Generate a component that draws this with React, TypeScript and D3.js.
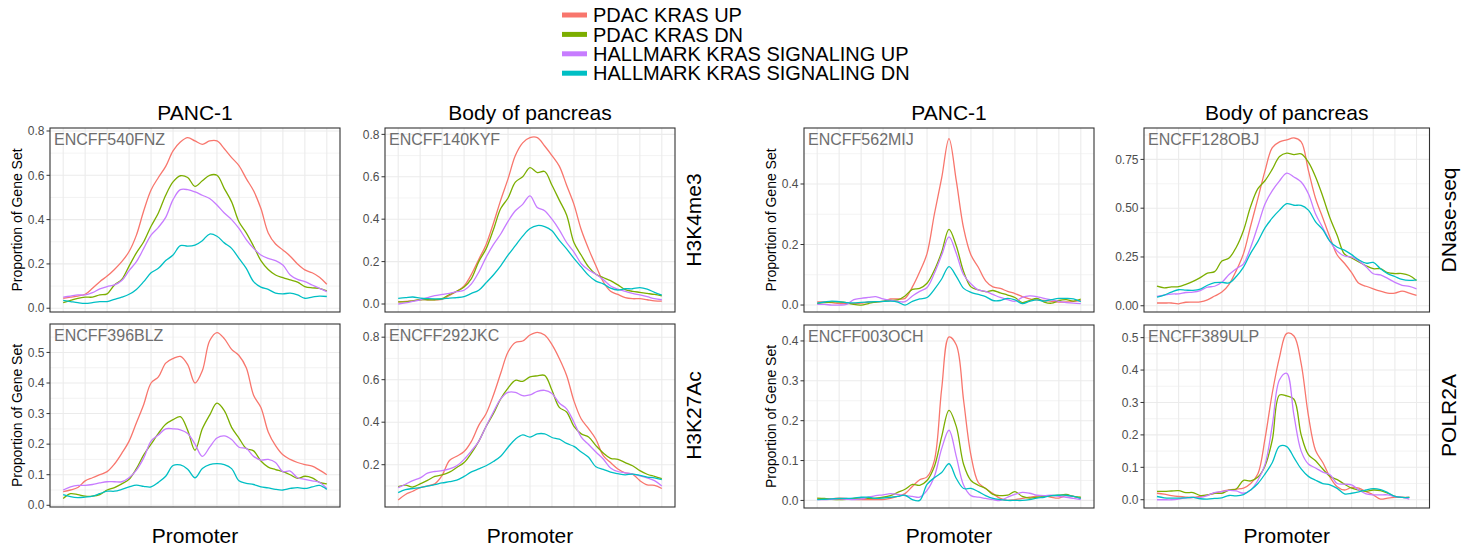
import React from 'react';
import * as d3 from 'd3';

// legend / series
const SERIES_NAMES = ['PDAC KRAS UP', 'PDAC KRAS DN', 'HALLMARK KRAS SIGNALING UP', 'HALLMARK KRAS SIGNALING DN'];
const SERIES_COLORS = ['#F8766D', '#7CAE00', '#C77CFF', '#00BFC4'];

// facet labels
const COLUMN_TITLES = ['PANC-1', 'Body of pancreas'];
const ROW_LABELS_LEFT = ['H3K4me3', 'H3K27Ac'];
const ROW_LABELS_RIGHT = ['DNase-seq', 'POLR2A'];
const FILE_IDS = ['ENCFF540FNZ', 'ENCFF140KYF', 'ENCFF396BLZ', 'ENCFF292JKC', 'ENCFF562MIJ', 'ENCFF128OBJ', 'ENCFF003OCH', 'ENCFF389ULP'];
const X_TITLE = 'Promoter';
const Y_TITLE = 'Proportion of Gene Set';

// H3K4me3, PANC-1
const H3K4_PANC_UP = [0.045,0.05,0.055,0.063,0.09,0.12,0.145,0.175,0.21,0.256,0.33,0.44,0.534,0.59,0.64,0.71,0.75,0.77,0.755,0.74,0.755,0.755,0.72,0.68,0.644,0.585,0.53,0.45,0.34,0.29,0.263,0.235,0.2,0.173,0.16,0.14,0.108];
const H3K4_PANC_DN = [0.025,0.035,0.045,0.05,0.05,0.06,0.065,0.105,0.13,0.19,0.25,0.3,0.37,0.43,0.51,0.57,0.598,0.59,0.55,0.575,0.6,0.6,0.54,0.48,0.39,0.34,0.28,0.215,0.175,0.15,0.138,0.128,0.118,0.098,0.092,0.09,0.078];
const H3K4_PANC_HUP = [0.05,0.055,0.06,0.06,0.07,0.087,0.098,0.105,0.125,0.17,0.21,0.27,0.33,0.365,0.41,0.49,0.535,0.535,0.525,0.51,0.495,0.466,0.43,0.4,0.36,0.31,0.27,0.24,0.225,0.215,0.195,0.15,0.13,0.12,0.105,0.09,0.075];
const H3K4_PANC_HDN = [0.035,0.03,0.025,0.022,0.025,0.03,0.03,0.04,0.05,0.063,0.085,0.12,0.16,0.18,0.215,0.24,0.283,0.28,0.285,0.305,0.335,0.325,0.295,0.27,0.225,0.18,0.12,0.095,0.085,0.068,0.065,0.068,0.06,0.045,0.05,0.055,0.053];

// H3K4me3, Body of pancreas
const H3K4_BODY_UP = [0.01,0.012,0.015,0.02,0.02,0.02,0.022,0.04,0.06,0.085,0.14,0.21,0.28,0.38,0.49,0.59,0.7,0.76,0.785,0.785,0.745,0.7,0.65,0.56,0.47,0.35,0.26,0.18,0.105,0.06,0.045,0.03,0.025,0.025,0.02,0.015,0.014];
const H3K4_BODY_DN = [0.01,0.01,0.015,0.02,0.02,0.02,0.025,0.045,0.06,0.08,0.12,0.2,0.26,0.35,0.45,0.5,0.575,0.6,0.643,0.62,0.625,0.56,0.49,0.42,0.29,0.23,0.175,0.14,0.125,0.11,0.09,0.068,0.06,0.055,0.05,0.045,0.038];
const H3K4_BODY_HUP = [0,0.005,0.012,0.02,0.03,0.04,0.045,0.05,0.058,0.065,0.095,0.15,0.22,0.28,0.33,0.39,0.44,0.47,0.51,0.455,0.44,0.4,0.35,0.29,0.245,0.19,0.16,0.14,0.115,0.085,0.07,0.06,0.05,0.043,0.035,0.025,0.02];
const H3K4_BODY_HDN = [0.027,0.03,0.033,0.028,0.025,0.024,0.024,0.028,0.03,0.035,0.05,0.065,0.1,0.137,0.18,0.23,0.275,0.32,0.356,0.37,0.365,0.345,0.3,0.26,0.215,0.175,0.135,0.108,0.095,0.075,0.066,0.072,0.072,0.077,0.07,0.055,0.042];

// H3K27Ac, PANC-1
const H3K27_PANC_UP = [0.045,0.05,0.058,0.08,0.09,0.1,0.11,0.135,0.17,0.21,0.27,0.33,0.4,0.42,0.465,0.48,0.487,0.46,0.4,0.44,0.538,0.565,0.545,0.51,0.49,0.45,0.36,0.32,0.24,0.195,0.165,0.15,0.14,0.133,0.128,0.115,0.1];
const H3K27_PANC_DN = [0.022,0.038,0.035,0.03,0.03,0.035,0.05,0.058,0.07,0.085,0.12,0.165,0.2,0.235,0.265,0.28,0.29,0.245,0.18,0.25,0.295,0.334,0.31,0.255,0.22,0.186,0.178,0.145,0.125,0.117,0.11,0.1,0.088,0.095,0.09,0.075,0.07];
const H3K27_PANC_HUP = [0.05,0.06,0.065,0.065,0.068,0.073,0.077,0.077,0.077,0.09,0.115,0.155,0.21,0.23,0.25,0.25,0.247,0.235,0.2,0.16,0.19,0.22,0.227,0.215,0.19,0.186,0.16,0.148,0.15,0.14,0.11,0.112,0.09,0.085,0.08,0.075,0.055];
const H3K27_PANC_HDN = [0.035,0.028,0.025,0.027,0.03,0.038,0.046,0.046,0.052,0.06,0.066,0.062,0.06,0.075,0.095,0.13,0.132,0.118,0.09,0.12,0.133,0.136,0.133,0.12,0.08,0.072,0.068,0.06,0.057,0.052,0.05,0.055,0.058,0.055,0.06,0.065,0.052];

// H3K27Ac, Body of pancreas
const H3K27_BODY_UP = [0.034,0.06,0.075,0.092,0.1,0.11,0.15,0.22,0.24,0.262,0.31,0.385,0.44,0.527,0.63,0.73,0.775,0.782,0.81,0.823,0.81,0.765,0.7,0.62,0.5,0.415,0.37,0.32,0.243,0.21,0.18,0.162,0.156,0.125,0.105,0.103,0.088];
const H3K27_BODY_DN = [0.097,0.104,0.095,0.11,0.126,0.145,0.152,0.165,0.187,0.21,0.255,0.31,0.38,0.44,0.51,0.56,0.597,0.592,0.613,0.618,0.62,0.55,0.47,0.448,0.38,0.345,0.33,0.29,0.255,0.23,0.225,0.21,0.195,0.172,0.155,0.145,0.135];
const H3K27_BODY_HUP = [0.092,0.108,0.125,0.138,0.16,0.168,0.172,0.18,0.195,0.225,0.265,0.31,0.38,0.448,0.51,0.54,0.54,0.525,0.528,0.545,0.55,0.535,0.49,0.463,0.4,0.33,0.295,0.26,0.227,0.185,0.168,0.162,0.156,0.148,0.138,0.125,0.1];
const H3K27_BODY_HDN = [0.069,0.083,0.088,0.092,0.099,0.106,0.114,0.12,0.127,0.145,0.166,0.18,0.195,0.215,0.24,0.282,0.32,0.34,0.33,0.345,0.345,0.328,0.32,0.3,0.286,0.26,0.235,0.19,0.178,0.165,0.158,0.152,0.156,0.15,0.142,0.138,0.13];

// DNase-seq, PANC-1
const DNASE_PANC_UP = [0.01,0.01,0.008,0.005,0.005,0.005,0.006,0.01,0.01,0.012,0.02,0.02,0.022,0.06,0.11,0.17,0.3,0.42,0.55,0.41,0.253,0.165,0.125,0.08,0.06,0.055,0.045,0.038,0.028,0.02,0.017,0.015,0.012,0.01,0.01,0.012,0.015];
const DNASE_PANC_DN = [0.005,0.008,0.01,0.01,0.008,0.002,0,0.005,0.01,0.012,0.015,0.017,0.03,0.052,0.055,0.072,0.115,0.175,0.25,0.195,0.11,0.06,0.05,0.044,0.048,0.04,0.033,0.025,0.008,0.015,0.022,0.01,0.006,0.015,0.018,0.013,0.02];
const DNASE_PANC_HUP = [0.002,0.002,0,0,0.002,0.018,0.022,0.025,0.028,0.02,0.016,0.012,0.011,0.03,0.045,0.058,0.105,0.165,0.225,0.17,0.1,0.07,0.05,0.045,0.035,0.025,0.018,0.012,0.025,0.03,0.028,0.022,0.017,0.012,0.008,0.006,0.005];
const DNASE_PANC_HDN = [0.006,0.01,0.013,0.011,0.008,0.007,0.009,0.01,0.011,0.012,0.013,0.01,0,0.012,0.02,0.025,0.052,0.086,0.127,0.095,0.055,0.042,0.035,0.028,0.015,0.015,0.022,0.017,0.005,0.012,0.017,0.013,0.018,0.022,0.022,0.02,0.011];

// DNase-seq, Body of pancreas
const DNASE_BODY_UP = [0.014,0.014,0.014,0.01,0.018,0.019,0.02,0.03,0.05,0.07,0.11,0.18,0.267,0.41,0.55,0.694,0.81,0.84,0.85,0.86,0.84,0.694,0.55,0.45,0.35,0.26,0.218,0.17,0.115,0.1,0.087,0.075,0.065,0.065,0.075,0.065,0.053];
const DNASE_BODY_DN = [0.1,0.092,0.097,0.098,0.11,0.125,0.144,0.167,0.175,0.229,0.245,0.3,0.386,0.51,0.6,0.642,0.7,0.765,0.782,0.775,0.778,0.736,0.66,0.56,0.45,0.36,0.265,0.245,0.225,0.205,0.19,0.19,0.17,0.165,0.165,0.155,0.13];
const DNASE_BODY_HUP = [0.048,0.055,0.06,0.061,0.068,0.07,0.078,0.095,0.1,0.12,0.16,0.19,0.215,0.3,0.41,0.523,0.59,0.64,0.68,0.66,0.634,0.574,0.47,0.4,0.33,0.28,0.255,0.25,0.23,0.2,0.164,0.158,0.14,0.12,0.105,0.099,0.087];
const DNASE_BODY_HDN = [0.044,0.055,0.07,0.082,0.08,0.079,0.085,0.105,0.118,0.12,0.117,0.15,0.198,0.27,0.33,0.4,0.45,0.49,0.523,0.515,0.514,0.49,0.43,0.39,0.33,0.3,0.285,0.262,0.235,0.218,0.222,0.19,0.165,0.15,0.135,0.13,0.133];

// POLR2A, PANC-1
const POLR_PANC_UP = [0.004,0.004,0.004,0.006,0.005,0.003,0.002,0.002,0.002,0.002,0.005,0.01,0.017,0.035,0.052,0.059,0.1,0.28,0.41,0.39,0.25,0.113,0.045,0.03,0.017,0.005,0,0.002,0.005,0.008,0.011,0.012,0.008,0.006,0.012,0.01,0.005];
const POLR_PANC_DN = [0.006,0.005,0.003,0.002,0.003,0.005,0.006,0.005,0.006,0.008,0.012,0.02,0.028,0.04,0.038,0.05,0.085,0.16,0.226,0.185,0.09,0.05,0.038,0.03,0.015,0.012,0.013,0.022,0.01,0.006,0.008,0.01,0.012,0.013,0.015,0.01,0.008];
const POLR_PANC_HUP = [0.002,0.002,0.003,0.004,0.003,0.002,0.004,0.008,0.012,0.014,0.017,0.015,0.012,0.01,0.008,0.025,0.06,0.13,0.176,0.11,0.038,0.012,0.008,0.005,0.002,0,0.008,0.015,0.02,0.018,0.013,0.012,0.013,0.01,0.008,0.005,0.002];
const POLR_PANC_HDN = [0.002,0.003,0.004,0.005,0.005,0.006,0.008,0.008,0.005,0.006,0.008,0.01,0.013,0.002,0,0.04,0.057,0.07,0.092,0.055,0.03,0.03,0.022,0.012,0.005,0.002,0,0,0,0.002,0.006,0.008,0.012,0.013,0.013,0.01,0.005];

// POLR2A, Body of pancreas (one bin shorter)
const POLR_BODY_UP = [0.02,0.017,0.013,0.01,0.008,0.007,0.01,0.014,0.02,0.026,0.03,0.033,0.036,0.05,0.08,0.19,0.33,0.44,0.513,0.505,0.42,0.26,0.152,0.115,0.07,0.04,0.03,0.038,0.036,0.025,0.015,0.002,0.005,0.007,0.007,0.007];
const POLR_BODY_DN = [0.026,0.026,0.027,0.028,0.022,0.022,0.013,0.015,0.02,0.02,0.03,0.033,0.06,0.058,0.07,0.105,0.185,0.323,0.32,0.31,0.2,0.139,0.12,0.095,0.072,0.062,0.048,0.036,0.03,0.026,0.03,0.028,0.02,0.01,0.007,0.007];
const POLR_BODY_HUP = [0,0,0,0.002,0.006,0.007,0.007,0.013,0.022,0.025,0.029,0.027,0.02,0.03,0.06,0.11,0.23,0.37,0.39,0.26,0.15,0.11,0.098,0.085,0.077,0.05,0.048,0.046,0.03,0.018,0.015,0.015,0.015,0.01,0.007,0.002];
const POLR_BODY_HDN = [0.01,0.006,0.005,0.005,0.006,0.007,0.003,0.002,0.004,0.006,0.013,0.012,0.016,0.03,0.05,0.08,0.115,0.165,0.164,0.13,0.095,0.072,0.06,0.05,0.046,0.035,0.018,0.02,0.024,0.03,0.034,0.031,0.022,0.01,0.007,0.007];

const FONT = '"Liberation Sans", Arial, Helvetica, sans-serif';
const N_BINS = 37;

type Panel = {
  id: string;
  x0: number; x1: number; y0: number; y1: number;
  yDomain: [number, number];
  ticks: number[];
  fmt: string;
  series: number[][];
  yTitle: boolean;
};

const PANELS: Panel[] = [
  { id: FILE_IDS[0], x0: 50, x1: 340, y0: 128, y1: 312, yDomain: [-0.017, 0.8135], ticks: [0, 0.2, 0.4, 0.6, 0.8], fmt: '.1f', yTitle: true,
    series: [H3K4_PANC_UP, H3K4_PANC_DN, H3K4_PANC_HUP, H3K4_PANC_HDN] },
  { id: FILE_IDS[1], x0: 385, x1: 675, y0: 128, y1: 312, yDomain: [-0.0377, 0.83], ticks: [0, 0.2, 0.4, 0.6, 0.8], fmt: '.1f', yTitle: false,
    series: [H3K4_BODY_UP, H3K4_BODY_DN, H3K4_BODY_HUP, H3K4_BODY_HDN] },
  { id: FILE_IDS[2], x0: 50, x1: 340, y0: 324, y1: 507, yDomain: [-0.0056, 0.593], ticks: [0, 0.1, 0.2, 0.3, 0.4, 0.5], fmt: '.1f', yTitle: true,
    series: [H3K27_PANC_UP, H3K27_PANC_DN, H3K27_PANC_HUP, H3K27_PANC_HDN] },
  { id: FILE_IDS[3], x0: 385, x1: 675, y0: 324, y1: 507, yDomain: [0.001, 0.862], ticks: [0.2, 0.4, 0.6, 0.8], fmt: '.1f', yTitle: false,
    series: [H3K27_BODY_UP, H3K27_BODY_DN, H3K27_BODY_HUP, H3K27_BODY_HDN] },
  { id: FILE_IDS[4], x0: 804, x1: 1094, y0: 128, y1: 312, yDomain: [-0.023, 0.585], ticks: [0, 0.2, 0.4], fmt: '.1f', yTitle: true,
    series: [DNASE_PANC_UP, DNASE_PANC_DN, DNASE_PANC_HUP, DNASE_PANC_HDN] },
  { id: FILE_IDS[5], x0: 1144, x1: 1429.5, y0: 128, y1: 312, yDomain: [-0.032, 0.911], ticks: [0, 0.25, 0.5, 0.75], fmt: '.2f', yTitle: false,
    series: [DNASE_BODY_UP, DNASE_BODY_DN, DNASE_BODY_HUP, DNASE_BODY_HDN] },
  { id: FILE_IDS[6], x0: 804, x1: 1094, y0: 325, y1: 508, yDomain: [-0.019, 0.44], ticks: [0, 0.1, 0.2, 0.3, 0.4], fmt: '.1f', yTitle: true,
    series: [POLR_PANC_UP, POLR_PANC_DN, POLR_PANC_HUP, POLR_PANC_HDN] },
  { id: FILE_IDS[7], x0: 1144, x1: 1429.5, y0: 325, y1: 508, yDomain: [-0.0255, 0.539], ticks: [0, 0.1, 0.2, 0.3, 0.4, 0.5], fmt: '.1f', yTitle: false,
    series: [POLR_BODY_UP, POLR_BODY_DN, POLR_BODY_HUP, POLR_BODY_HDN] },
];

function PanelView({ p, idx }: { p: Panel; idx: number }) {
  const pad = (N_BINS - 1) * 0.05;
  const x = d3.scaleLinear().domain([-pad, N_BINS - 1 + pad]).range([p.x0, p.x1]);
  const y = d3.scaleLinear().domain(p.yDomain).range([p.y1, p.y0]);
  const line = d3.line<number>()
    .x((_, i) => x(i))
    .y(d => y(d))
    .curve(d3.curveCatmullRom.alpha(0.5));

  const step = p.ticks[1] - p.ticks[0];
  const minor: number[] = [p.ticks[0] - step / 2];
  p.ticks.forEach(t => minor.push(t + step / 2));
  const minorIn = minor.filter(v => v > p.yDomain[0] && v < p.yDomain[1]);
  const vGrid = d3.range(0, N_BINS, 3);
  const fmt = d3.format(p.fmt);
  const clipId = `clip-${idx}`;

  return (
    <g>
      <defs>
        <clipPath id={clipId}>
          <rect x={p.x0} y={p.y0} width={p.x1 - p.x0} height={p.y1 - p.y0} />
        </clipPath>
      </defs>
      <rect x={p.x0} y={p.y0} width={p.x1 - p.x0} height={p.y1 - p.y0} fill="#fff" />
      {minorIn.map(v => (
        <line key={'mi' + v} x1={p.x0} x2={p.x1} y1={y(v)} y2={y(v)} stroke="#ebebeb" strokeWidth={0.6} />
      ))}
      {p.ticks.map(v => (
        <line key={'ma' + v} x1={p.x0} x2={p.x1} y1={y(v)} y2={y(v)} stroke="#ebebeb" strokeWidth={1.1} />
      ))}
      {vGrid.map(v => (
        <line key={'v' + v} x1={x(v)} x2={x(v)} y1={p.y0} y2={p.y1} stroke="#ebebeb" strokeWidth={1.1} />
      ))}
      <g clipPath={`url(#${clipId})`}>
        {p.series.map((s, i) => (
          <path key={i} d={line(s) || ''} fill="none" stroke={SERIES_COLORS[i]} strokeWidth={1.3} />
        ))}
      </g>
      <text x={p.x0 + 4} y={p.y0 + 17} fontSize={16} fill="#6e6e6e" fontFamily={FONT}>{p.id}</text>
      <rect x={p.x0} y={p.y0} width={p.x1 - p.x0} height={p.y1 - p.y0} fill="none" stroke="#333333" strokeWidth={1.1} />
      {p.ticks.map(v => (
        <g key={'t' + v}>
          <line x1={p.x0 - 3.5} x2={p.x0} y1={y(v)} y2={y(v)} stroke="#333333" strokeWidth={1} />
          <text x={p.x0 - 5.5} y={y(v)} dy="0.35em" textAnchor="end" fontSize={12} fill="#4d4d4d" fontFamily={FONT}>{fmt(v)}</text>
        </g>
      ))}
      {p.yTitle && (
        <text transform={`translate(${p.x0 - 28},${(p.y0 + p.y1) / 2}) rotate(-90)`} textAnchor="middle"
          fontSize={14} fill="#000" fontFamily={FONT}>{Y_TITLE}</text>
      )}
    </g>
  );
}

export default function App() {
  const colCenters = [
    (PANELS[0].x0 + PANELS[0].x1) / 2, (PANELS[1].x0 + PANELS[1].x1) / 2,
    (PANELS[4].x0 + PANELS[4].x1) / 2, (PANELS[5].x0 + PANELS[5].x1) / 2,
  ];
  const rowCenters = [(PANELS[0].y0 + PANELS[0].y1) / 2, (PANELS[2].y0 + PANELS[2].y1) / 2];
  const legendY = [15, 34.4, 53.8, 73.2];

  return (
    <svg width={1472} height={550} style={{ position: 'absolute', left: 0, top: 0, background: '#fff' }}>
      <rect width={1472} height={550} fill="#fff" />
      {SERIES_NAMES.map((name, i) => (
        <g key={name}>
          <line x1={562} x2={587} y1={legendY[i]} y2={legendY[i]} stroke={SERIES_COLORS[i]} strokeWidth={5} />
          <text x={593} y={legendY[i]} dy="0.36em" fontSize={20} fontFamily={FONT} fill="#000">{name}</text>
        </g>
      ))}
      {colCenters.map((cx, i) => (
        <text key={'ct' + i} x={cx} y={120} textAnchor="middle" fontSize={21} fontFamily={FONT} fill="#000">
          {COLUMN_TITLES[i % 2]}
        </text>
      ))}
      {colCenters.map((cx, i) => (
        <text key={'xt' + i} x={cx} y={543} textAnchor="middle" fontSize={21} fontFamily={FONT} fill="#000">{X_TITLE}</text>
      ))}
      {rowCenters.map((cy, i) => (
        <text key={'rl' + i} transform={`translate(${701},${cy}) rotate(-90)`} textAnchor="middle" fontSize={21}
          fontFamily={FONT} fill="#000">{ROW_LABELS_LEFT[i]}</text>
      ))}
      {rowCenters.map((cy, i) => (
        <text key={'rr' + i} transform={`translate(${1456},${cy}) rotate(-90)`} textAnchor="middle" fontSize={21}
          fontFamily={FONT} fill="#000">{ROW_LABELS_RIGHT[i]}</text>
      ))}
      {PANELS.map((p, i) => <PanelView key={p.id} p={p} idx={i} />)}
    </svg>
  );
}
